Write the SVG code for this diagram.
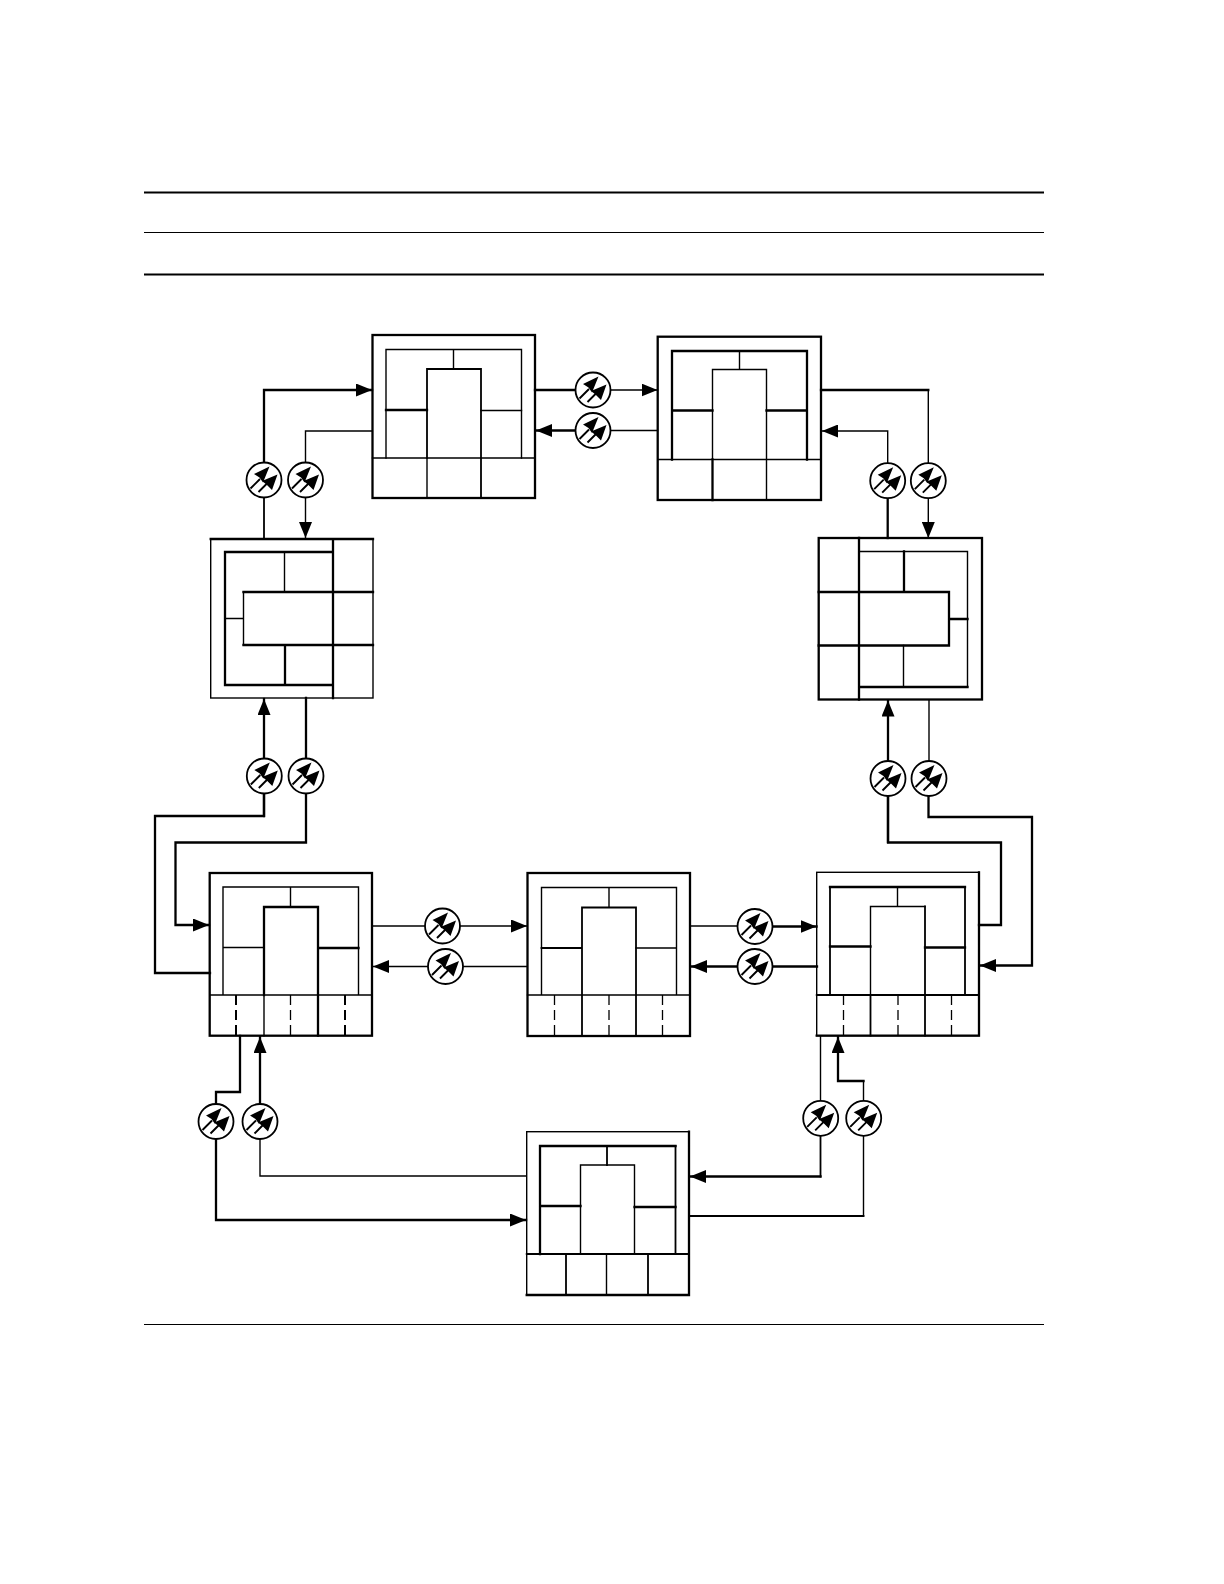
<svg xmlns="http://www.w3.org/2000/svg" width="1224" height="1584" viewBox="0 0 1224 1584">
<style>
.k{fill:none;stroke:#000;stroke-linecap:square}
.a{stroke-width:1.4}
.m{stroke-width:1.8}
.b{stroke-width:2.3}
.d{fill:none;stroke:#000;stroke-width:2;stroke-dasharray:10 5;stroke-linecap:butt}
.e{fill:none;stroke:#000;stroke-width:1.3;stroke-dasharray:10 5;stroke-linecap:butt}
.c{fill:#fff;stroke:#000;stroke-width:1.8}
.h{fill:#000;stroke:none}
.s{fill:none;stroke:#000;stroke-width:1.9}
.r1{fill:none;stroke:#000;stroke-width:2}
.r2{fill:none;stroke:#000;stroke-width:1}
</style>
<defs>
<g id="oe">
<circle class="c" r="17.500"/>
<path class="s" d="M-13.500 8.500L-4 -1M-5.500 12L3 3.500"/>
<path class="h" d="M5.500 -13.500L-10 -6L-4.500 -2.500L-1 2.500ZM13.500 -5.500L-2 1L2.500 4.500L8 10Z"/>
</g>
<marker id="ar" markerUnits="userSpaceOnUse" markerWidth="17" markerHeight="13" refX="16" refY="6.500" orient="auto"><path class="h" d="M0 0L16 6.500L0 13Z"/></marker>
</defs>
<g id="rules">
<path class="r1" d="M144 192.500H1044M144 274.500H1044"/>
<path class="r2" d="M144 232.500H1044M144 1324.500H1044"/>
</g>
<g id="connectors">
<path class="k b" d="M264 480V390H372" marker-end="url(#ar)"/>
<path class="k m" d="M264 539V480"/>
<path class="k a" d="M372 431H305.500V538" marker-end="url(#ar)"/>
<path class="k b" d="M535 390H593"/>
<path class="k a" d="M593 390H657.500" marker-end="url(#ar)"/>
<path class="k a" d="M657.500 430.500H593"/>
<path class="k b" d="M593 430.500H536" marker-end="url(#ar)"/>
<path class="k b" d="M821 390H928.300"/>
<path class="k a" d="M928.300 390V538" marker-end="url(#ar)"/>
<path class="k a" d="M887.700 480V431H822" marker-end="url(#ar)"/>
<path class="k b" d="M887.700 538V480"/>
<path class="k b" d="M264 816V699" marker-end="url(#ar)"/>
<path class="k b" d="M264 775V816H155V973H210"/>
<path class="k b" d="M306 698V842.500H175.500V925H209" marker-end="url(#ar)"/>
<path class="k b" d="M888 842V700.500" marker-end="url(#ar)"/>
<path class="k b" d="M888 778V842.500H1001V925H979"/>
<path class="k a" d="M929 700V778"/>
<path class="k b" d="M928.500 778V817H1032V965.500H980" marker-end="url(#ar)"/>
<path class="k a" d="M372 926H442"/>
<path class="k a" d="M442 926H527" marker-end="url(#ar)"/>
<path class="k a" d="M527 966.500H373" marker-end="url(#ar)"/>
<path class="k a" d="M690 926H755"/>
<path class="k b" d="M755 926.500H816.500" marker-end="url(#ar)"/>
<path class="k b" d="M817 966.500H691" marker-end="url(#ar)"/>
<path class="k b" d="M240 1036V1092H216V1220H526" marker-end="url(#ar)"/>
<path class="k a" d="M526 1176H260V1121"/>
<path class="k b" d="M260 1121V1037" marker-end="url(#ar)"/>
<path class="k a" d="M820.500 1036V1118"/>
<path class="k m" d="M820.500 1118V1176.500"/>
<path class="k b" d="M820.500 1176.500H690" marker-end="url(#ar)"/>
<path class="k m" d="M689 1216H863.500"/>
<path class="k a" d="M863.500 1216V1081"/>
<path class="k b" d="M863.500 1081H838V1037" marker-end="url(#ar)"/>
<use href="#oe" x="264" y="480"/><use href="#oe" x="305.500" y="480"/>
<use href="#oe" x="593" y="390"/><use href="#oe" x="593" y="430.500"/>
<use href="#oe" x="887.700" y="480.700"/><use href="#oe" x="928.300" y="480.700"/>
<use href="#oe" x="264.300" y="776"/><use href="#oe" x="306" y="776"/>
<use href="#oe" x="888" y="778.500"/><use href="#oe" x="929" y="778.500"/>
<use href="#oe" x="442.500" y="926"/><use href="#oe" x="445.500" y="966.500"/>
<use href="#oe" x="755" y="926.500"/><use href="#oe" x="755" y="966.500"/>
<use href="#oe" x="216" y="1121.500"/><use href="#oe" x="260" y="1121.500"/>
<use href="#oe" x="820.700" y="1118.300"/><use href="#oe" x="863.700" y="1118.300"/>
</g>
<g id="node-a">
<rect class="k b" x="372.500" y="335" width="162.500" height="163"/>
<path class="k a" d="M386 458V349.500H521.500V458M453.500 349.500V369M427 458V498"/>
<path class="k m" d="M427 458V369H481V458M481 458V498"/>
<path class="k b" d="M386 410H427"/>
<path class="k a" d="M372.500 458H535M481 410.500H521.500"/>
</g>
<g id="node-b">
<rect class="k b" x="657.700" y="336.700" width="163.300" height="163.300"/>
<path class="k b" d="M672 459.500V351H807V459.500M712.500 459.500V500M766.500 410.500H807M672 410.500H712.500"/>
<path class="k a" d="M712.500 459.500V369.500H766.500V459.500M739.500 351V369.500M657.700 459.500H821M766.500 459.500V500"/>
</g>
<g id="node-c">
<rect class="k a" x="210.700" y="539" width="162.300" height="159"/>
<path class="k b" d="M210.700 539H373M333 539V698M333 552H225V685H333M243.500 592H373M243.500 645H373M285 645V685"/>
<path class="k a" d="M243.500 592V645M284.500 552V592M225 618.500H243.500"/>
</g>
<g id="node-d">
<rect class="k b" x="818.700" y="538" width="163.300" height="161.500"/>
<path class="k b" d="M859 538V699.500M818.700 592H949V645.500H818.700M904 551.500V592M949 619H967.500M859 687H967.500"/>
<path class="k a" d="M859 551.500H967.500V687M903.500 645.500V687"/>
</g>
<g id="node-e">
<rect class="k b" x="209.700" y="873" width="162.300" height="162.700"/>
<path class="k a" d="M223 995V887H358.500V995M290.500 887V907M209.700 995H372M223 947.500H264M264 995V1035.700"/>
<path class="k b" d="M264 995V907H318V1035.700M318 948H358.500"/>
<path class="d" d="M236 995V1035.700M345 995V1035.700"/>
<path class="e" d="M290.500 995V1035.700"/>
</g>
<g id="node-f">
<rect class="k b" x="527.500" y="873" width="162.500" height="163"/>
<path class="k a" d="M541.500 995V887.500H676.500V995M609 887.500V907M527.500 995H690M636 948H676.500"/>
<path class="k m" d="M582 1036V907.500H636V1036M541.500 948H582"/>
<path class="e" d="M554.500 995V1036M609 995V1036M662.500 995V1036"/>
</g>
<g id="node-g">
<rect class="k a" x="816.700" y="872.300" width="162.300" height="163.400"/>
<path class="k b" d="M816.700 1035.700H979V872.300M830 887H965M830 946.500H870.500M925 947.500H965"/>
<path class="k m" d="M830 995V887M965 887V995M925 906.500V1035.700M816.700 995H979M870.500 995V1035.700"/>
<path class="k a" d="M870.500 995V906.500H925M897.500 887V906.500"/>
<path class="e" d="M843.500 995V1035.700M898 995V1035.700M951.500 995V1035.700"/>
</g>
<g id="node-h">
<rect class="k a" x="526.700" y="1131.700" width="162.300" height="163.300"/>
<path class="k b" d="M526.700 1295H689V1131.700M540 1254V1146H675.500M540 1206H580.500M634.500 1207H675.500"/>
<path class="k m" d="M526.700 1254H689M675.500 1146V1254M566 1254V1295M648 1254V1295M607 1146V1165"/>
<path class="k a" d="M580.500 1254V1165H634.500V1254M606.500 1254V1295"/>
</g>
</svg>
